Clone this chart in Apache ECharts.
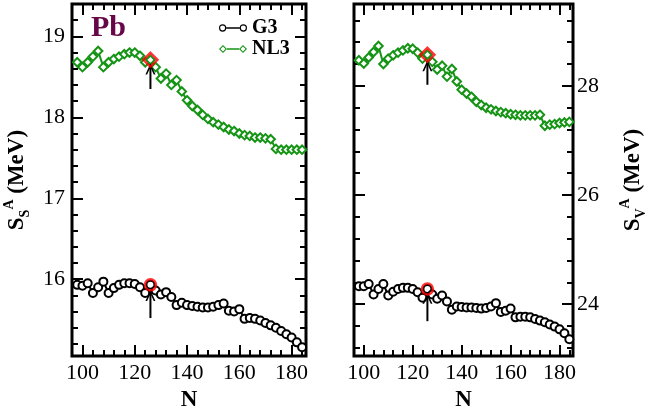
<!DOCTYPE html>
<html>
<head>
<meta charset="utf-8">
<script src="https://cdn.jsdelivr.net/npm/echarts@6/dist/echarts.min.js"></script>
<style>
html,body{margin:0;padding:0;background:#fff;}
#chart{width:649px;height:417px;}
</style>
</head>
<body>
<div id="chart"></div>
<script>
// Neutron numbers
const N = [98,100,102,104,106,108,110,112,114,116,118,120,122,124,126,128,130,132,134,136,138,140,
           142,144,146,148,150,152,154,156,158,160,162,164,166,168,170,172,174,176,178,180,182,184];

// Left panel: S_S^A (MeV)
const g3Surface = [15.93,15.92,15.95,15.83,15.90,15.97,15.83,15.89,15.93,15.95,15.95,15.94,15.90,15.83,15.93,15.86,15.81,15.84,15.78,15.68,15.71,15.68,
                   15.67,15.66,15.65,15.65,15.66,15.68,15.70,15.61,15.60,15.63,15.51,15.52,15.51,15.49,15.46,15.43,15.40,15.36,15.32,15.28,15.22,15.16];
const nl3Surface = [18.68,18.62,18.68,18.75,18.82,18.62,18.68,18.72,18.75,18.78,18.80,18.80,18.76,18.68,18.71,18.62,18.48,18.54,18.40,18.46,18.32,18.21,
                    18.14,18.09,18.03,17.98,17.94,17.91,17.88,17.85,17.83,17.80,17.78,17.77,17.75,17.75,17.74,17.73,17.61,17.60,17.60,17.60,17.60,17.60];

// Right panel: S_V^A (MeV)
const g3Volume = [24.33,24.33,24.37,24.18,24.28,24.37,24.16,24.23,24.28,24.30,24.30,24.28,24.22,24.12,24.28,24.18,24.10,24.16,24.05,23.90,23.96,23.95,
                  23.94,23.94,23.93,23.92,23.93,23.96,24.02,23.86,23.88,23.92,23.76,23.77,23.77,23.76,23.73,23.70,23.67,23.63,23.59,23.54,23.47,23.36];
const nl3Volume = [28.47,28.41,28.52,28.62,28.73,28.40,28.50,28.56,28.61,28.65,28.69,28.68,28.61,28.50,28.57,28.44,28.30,28.37,28.17,28.31,28.08,27.93,
                   27.86,27.80,27.71,27.65,27.60,27.57,27.54,27.52,27.50,27.48,27.47,27.46,27.46,27.46,27.46,27.47,27.27,27.29,27.30,27.32,27.33,27.34];

// Highlighted magic number and arrows (tail, tip)
const magicN = 126;
const arrowSurfG3 = [15.52, 15.86];
const arrowSurfNL3 = [18.35, 18.66];
const arrowVolG3 = [23.69, 24.20];
const arrowVolNL3 = [28.02, 28.46];

// Ticks
const xMajorTicks = [100,120,140,160,180];
const xMinorTicks = [104,108,112,116,124,128,132,136,144,148,152,156,164,168,172,176,184];
const ySurfMajorTicks = [16,17,18,19];
const ySurfMinorTicks = [15.2,15.4,15.6,15.8,16.2,16.4,16.6,16.8,17.2,17.4,17.6,17.8,18.2,18.4,18.6,18.8,19.2];
const yVolMajorTicks = [24,26,28];
const yVolMinorTicks = [23.2,23.6,24.4,24.8,25.2,25.6,26.4,26.8,27.2,27.6,28.4,28.8,29.2];

const SERIF = '"Liberation Serif", "Times New Roman", serif';
const GREEN = '#159415';

function pairs(xs, ys){ return xs.map((x,i)=>[x, ys[i]]); }

function xAxes(gridIndex){
  const base = {type:'value', gridIndex, min:96, max:185.5, splitLine:{show:false}, axisLine:{show:false}};
  return [
    Object.assign({}, base, {position:'bottom',
      axisTick:{inside:true, length:11, customValues:xMajorTicks, lineStyle:{color:'#000', width:2}},
      axisLabel:{customValues:xMajorTicks, color:'#000', fontFamily:SERIF, fontSize:22, margin:6},
      name:'N', nameLocation:'middle', nameGap:30,
      nameTextStyle:{color:'#000', fontFamily:SERIF, fontWeight:'bold', fontSize:23}}),
    Object.assign({}, base, {position:'bottom',
      axisTick:{inside:true, length:6, customValues:xMinorTicks, lineStyle:{color:'#000', width:2}},
      axisLabel:{show:false}}),
    Object.assign({}, base, {position:'top',
      axisTick:{inside:true, length:11, customValues:xMajorTicks, lineStyle:{color:'#000', width:2}},
      axisLabel:{show:false}}),
    Object.assign({}, base, {position:'top',
      axisTick:{inside:true, length:6, customValues:xMinorTicks, lineStyle:{color:'#000', width:2}},
      axisLabel:{show:false}})
  ];
}

function yAxes(gridIndex, min, max, major, minor, labelSide, name, sub){
  const other = labelSide === 'left' ? 'right' : 'left';
  const base = {type:'value', gridIndex, min, max, splitLine:{show:false}, axisLine:{show:false}};
  const rich = {
    m:{fontFamily:SERIF, fontWeight:'bold', fontSize:23, color:'#000', lineHeight:30},
    sub:{fontFamily:SERIF, fontWeight:'bold', fontSize:14, color:'#000', lineHeight:14, verticalAlign:'bottom'},
    sup:{fontFamily:SERIF, fontWeight:'bold', fontSize:14, color:'#000', lineHeight:14, verticalAlign:'top'}
  };
  return [
    Object.assign({}, base, {position:labelSide,
      axisTick:{inside:true, length:11, customValues:major, lineStyle:{color:'#000', width:2}},
      axisLabel:{customValues:major, color:'#000', fontFamily:SERIF, fontSize:22, margin: labelSide==='left'?7:4},
      name:'{m|' + name + '}{sub|' + sub + '}{sup|A}{m| (MeV)}',
      nameLocation:'middle', nameRotate:90, nameGap: labelSide==='left'?40:45,
      nameTextStyle:{rich}}),
    Object.assign({}, base, {position:labelSide,
      axisTick:{inside:true, length:6, customValues:minor, lineStyle:{color:'#000', width:2}},
      axisLabel:{show:false}}),
    Object.assign({}, base, {position:other,
      axisTick:{inside:true, length:11, customValues:major, lineStyle:{color:'#000', width:2}},
      axisLabel:{show:false}}),
    Object.assign({}, base, {position:other,
      axisTick:{inside:true, length:6, customValues:minor, lineStyle:{color:'#000', width:2}},
      axisLabel:{show:false}})
  ];
}

function curve(name, xi, yi, ys, color, symbol){
  return {
    name, type:'line', xAxisIndex:xi, yAxisIndex:yi, data:pairs(N, ys),
    symbol, symbolSize: symbol==='emptyCircle' ? 8 : 8.5, showSymbol:true,
    lineStyle:{color, width:2}, itemStyle:{color, borderWidth:1.3},
    emphasis:{disabled:true}, silent:true, z:3
  };
}

const chevron = 'path://M0,10 L5,0 L10,10 L8.3,10 L5,3.4 L1.7,10 Z';

function highlight(xi, yi, value, symbol){
  return {
    name:'hl', type:'scatter', xAxisIndex:xi, yAxisIndex:yi,
    data:[[magicN, value]], symbol, symbolSize: symbol==='diamond'?14:11,
    itemStyle:{color:'none', borderColor:'#ff0000', borderWidth:2.5},
    silent:true, z:5
  };
}

function arrowSeries(xi, yi, arrow){
  return {
    name:'arrow', type:'line', xAxisIndex:xi, yAxisIndex:yi,
    data:[
      {value:[magicN, arrow[0]], symbol:'none'},
      {value:[magicN, arrow[1]], symbol:chevron, symbolSize:[10,11], symbolOffset:[0,5]}
    ],
    showSymbol:true, lineStyle:{color:'#000', width:2},
    itemStyle:{color:'#000', borderWidth:0},
    emphasis:{disabled:true}, silent:true, z:4
  };
}

const idx = N.indexOf(magicN);

const gIcon = 'path://M0.5,4 A3.5,3.5 0 1 1 7.5,4 A3.5,3.5 0 1 1 0.5,4 Z M1.6,4 A2.4,2.4 0 1 0 6.4,4 A2.4,2.4 0 1 0 1.6,4 Z M7.5,3.3 L20.5,3.3 L20.5,4.7 L7.5,4.7 Z M20.5,4 A3.5,3.5 0 1 1 27.5,4 A3.5,3.5 0 1 1 20.5,4 Z M21.6,4 A2.4,2.4 0 1 0 26.4,4 A2.4,2.4 0 1 0 21.6,4 Z';
const nIcon = 'path://M0,4 L4,0 L8,4 L4,8 Z M1.5,4 L4,6.5 L6.5,4 L4,1.5 Z M8,3.3 L20,3.3 L20,4.7 L8,4.7 Z M20,4 L24,0 L28,4 L24,8 Z M21.5,4 L24,6.5 L26.5,4 L24,1.5 Z';

const option = {
  animation:false,
  backgroundColor:'#fff',
  title:{text:'Pb', left:86, top:8, textStyle:{fontFamily:SERIF, fontWeight:'bold', fontSize:30, color:'#670748'}},
  legend:{
    left:214, top:13, orient:'vertical', itemWidth:28, itemHeight:8, itemGap:1,
    textStyle:{fontFamily:SERIF, fontWeight:'bold', fontSize:20, color:'#000'},
    selectedMode:false,
    data:[
      {name:'G3', icon:gIcon, itemStyle:{color:'#000', borderWidth:0}},
      {name:'NL3', icon:nIcon, itemStyle:{color:GREEN, borderWidth:0}}
    ]
  },
  grid:[
    {left:72, top:4, width:234, height:363, show:true, borderColor:'#000', borderWidth:3, backgroundColor:'transparent'},
    {left:354, top:4, width:237, height:363, show:true, borderColor:'#000', borderWidth:3, backgroundColor:'transparent'}
  ],
  xAxis:[].concat(xAxes(0), xAxes(1)),
  yAxis:[].concat(
    yAxes(0, 15.05, 19.4, ySurfMajorTicks, ySurfMinorTicks, 'left', 'S', 'S'),
    yAxes(1, 23.05, 29.5, yVolMajorTicks, yVolMinorTicks, 'right', 'S', 'V')
  ),
  series:[
    curve('G3', 0, 0, g3Surface, '#000', 'emptyCircle'),
    curve('NL3', 0, 0, nl3Surface, GREEN, 'emptyDiamond'),
    curve('G3', 4, 4, g3Volume, '#000', 'emptyCircle'),
    curve('NL3', 4, 4, nl3Volume, GREEN, 'emptyDiamond'),
    arrowSeries(0, 0, arrowSurfG3),
    arrowSeries(0, 0, arrowSurfNL3),
    arrowSeries(4, 4, arrowVolG3),
    arrowSeries(4, 4, arrowVolNL3),
    highlight(0, 0, g3Surface[idx], 'circle'),
    highlight(0, 0, nl3Surface[idx], 'diamond'),
    highlight(4, 4, g3Volume[idx], 'circle'),
    highlight(4, 4, nl3Volume[idx], 'diamond')
  ]
};

const chart = echarts.init(document.getElementById('chart'), null, {renderer:'canvas'});
chart.setOption(option);
</script>
</body>
</html>
